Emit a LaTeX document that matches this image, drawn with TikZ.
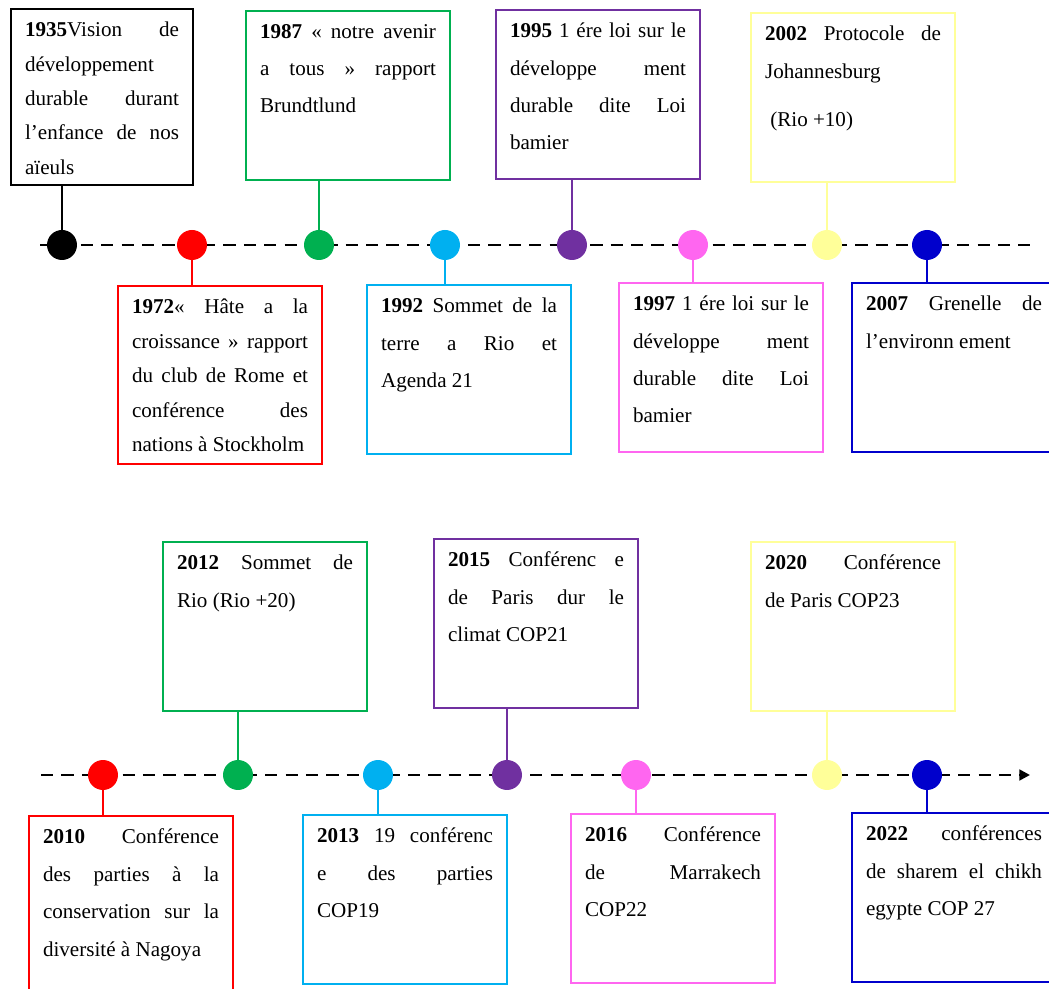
\documentclass[tikz,border=0pt]{standalone}
\usepackage{fontspec}
\setmainfont{Liberation Serif}
\usepackage{xcolor}
\usetikzlibrary{arrows, arrows.meta, positioning}

\definecolor{evred}{HTML}{FF0000}
\definecolor{evgreen}{HTML}{00B050}
\definecolor{evcyan}{HTML}{00B0F0}
\definecolor{evpurple}{HTML}{7030A0}
\definecolor{evpink}{HTML}{FF66F0}
\definecolor{evyellow}{HTML}{FFFF99}
\definecolor{evblue}{HTML}{0000CC}

\hbadness=10000
\newcommand{\evtext}[2][21.3pt]{\begin{minipage}[t][2.86cm][t]{3.52cm}\fontsize{12}{#1}\selectfont #2\end{minipage}}

\begin{document}
\begin{tikzpicture}[x=0.02cm, y=-0.02cm]
    \tikzstyle{evbox} = [rectangle, line width=1.2pt, inner xsep=0.28cm, inner ysep=0.26cm, anchor=north west, fill=white]
    \tikzstyle{evdot} = [circle, minimum size=0.6cm, inner sep=0pt]
    \tikzstyle{link} = [line width=0.8pt]
    \tikzstyle{timeline} = [line width=1.5pt, dash pattern=on 7pt off 4.6pt]

    \useasboundingbox (0,0) rectangle (1049,989);
    \clip (0,0) rectangle (1049,989);

    % first line 1935 - 2007
    \coordinate (tl1) at (40,245);
    \coordinate (tr1) at (1030,245);
    \draw [timeline] (tl1) -- (tr1);

    \node (d1935) [evdot, fill=black] at (62,245) {};
    \node (d1972) [evdot, fill=evred] at (192,245) {};
    \node (d1987) [evdot, fill=evgreen] at (319,245) {};
    \node (d1992) [evdot, fill=evcyan] at (445,245) {};
    \node (d1995) [evdot, fill=evpurple] at (572,245) {};
    \node (d1997) [evdot, fill=evpink] at (693,245) {};
    \node (d2002) [evdot, fill=evyellow] at (827,245) {};
    \node (d2007) [evdot, fill=evblue] at (927,245) {};

    \node (y1935) [evbox, draw=black] at (10,8) {\begin{minipage}[t][3.0cm][t]{3.08cm}\fontsize{12}{19.6pt}\selectfont
        \textbf{1935}Vision de\linebreak développement\linebreak durable durant\linebreak l’enfance de nos\linebreak aïeuls\end{minipage}};
    \node (y1972) [evbox, draw=evred] at (117,285) {\begin{minipage}[t][3.04cm][t]{3.52cm}\fontsize{12}{19.6pt}\selectfont
        \textbf{1972}« Hâte a la\linebreak croissance » rapport\linebreak du club de Rome et\linebreak conférence des\linebreak nations à Stockholm\end{minipage}};
    \node (y1987) [evbox, draw=evgreen] at (245,10) {\evtext{\textbf{1987} « notre avenir\linebreak a tous » rapport\linebreak Brundtlund}};
    \node (y1992) [evbox, draw=evcyan] at (366,284) {\evtext{\textbf{1992} Sommet de la\linebreak terre a Rio et\linebreak Agenda 21}};
    \node (y1995) [evbox, draw=evpurple] at (495,9) {\evtext{\textbf{1995} 1 ére loi sur le\linebreak développe ment\linebreak durable dite Loi\linebreak bamier}};
    \node (y1997) [evbox, draw=evpink] at (618,282) {\evtext{\textbf{1997} 1 ére loi sur le\linebreak développe ment\linebreak durable dite Loi\linebreak bamier}};
    \node (y2002) [evbox, draw=evyellow] at (750,12) {\evtext{\textbf{2002} Protocole de\linebreak Johannesburg\\[6pt]\hspace*{3pt}(Rio +10)}};
    \node (y2007) [evbox, draw=evblue] at (851,282) {\evtext{\textbf{2007} Grenelle de\linebreak l’environn ement}};

    \draw [link, black] (d1935) -- (d1935 |- y1935.south);
    \draw [link, evred] (d1972) -- (d1972 |- y1972.north);
    \draw [link, evgreen] (d1987) -- (d1987 |- y1987.south);
    \draw [link, evcyan] (d1992) -- (d1992 |- y1992.north);
    \draw [link, evpurple] (d1995) -- (d1995 |- y1995.south);
    \draw [link, evpink] (d1997) -- (d1997 |- y1997.north);
    \draw [link, evyellow] (d2002) -- (d2002 |- y2002.south);
    \draw [link, evblue] (d2007) -- (d2007 |- y2007.north);

    % second line 2010 - 2022
    \coordinate (tl2) at (41,775);
    \coordinate (tr2) at (1030,775);
    \draw [timeline, -{Triangle[length=6pt, width=6pt]}] (tl2) -- (tr2);

    \node (d2010) [evdot, fill=evred] at (103,775) {};
    \node (d2012) [evdot, fill=evgreen] at (238,775) {};
    \node (d2013) [evdot, fill=evcyan] at (378,775) {};
    \node (d2015) [evdot, fill=evpurple] at (507,775) {};
    \node (d2016) [evdot, fill=evpink] at (636,775) {};
    \node (d2020) [evdot, fill=evyellow] at (827,775) {};
    \node (d2022) [evdot, fill=evblue] at (927,775) {};

    \node (y2010) [evbox, draw=evred] at (28,815) {\begin{minipage}[t][3.5cm][t]{3.52cm}\fontsize{12}{21.3pt}\selectfont
        \textbf{2010} Conférence\linebreak des parties à la\linebreak conservation sur la\linebreak diversité à Nagoya\end{minipage}};
    \node (y2012) [evbox, draw=evgreen] at (162,541) {\evtext{\textbf{2012} Sommet de\linebreak Rio (Rio +20)}};
    \node (y2013) [evbox, draw=evcyan] at (302,814) {\evtext{\textbf{2013} 19 conférenc\linebreak e des parties\linebreak COP19}};
    \node (y2015) [evbox, draw=evpurple] at (433,538) {\evtext{\textbf{2015} Conférenc e\linebreak de Paris dur le\linebreak climat COP21}};
    \node (y2016) [evbox, draw=evpink] at (570,813) {\evtext{\textbf{2016} Conférence\linebreak de Marrakech\linebreak COP22}};
    \node (y2020) [evbox, draw=evyellow] at (750,541) {\evtext{\textbf{2020} Conférence\linebreak de Paris COP23}};
    \node (y2022) [evbox, draw=evblue] at (851,812) {\evtext{\textbf{2022} conférences\linebreak de sharem el chikh\linebreak egypte COP 27}};

    \draw [link, evred] (d2010) -- (d2010 |- y2010.north);
    \draw [link, evgreen] (d2012) -- (d2012 |- y2012.south);
    \draw [link, evcyan] (d2013) -- (d2013 |- y2013.north);
    \draw [link, evpurple] (d2015) -- (d2015 |- y2015.south);
    \draw [link, evpink] (d2016) -- (d2016 |- y2016.north);
    \draw [link, evyellow] (d2020) -- (d2020 |- y2020.south);
    \draw [link, evblue] (d2022) -- (d2022 |- y2022.north);
\end{tikzpicture}
\end{document}
